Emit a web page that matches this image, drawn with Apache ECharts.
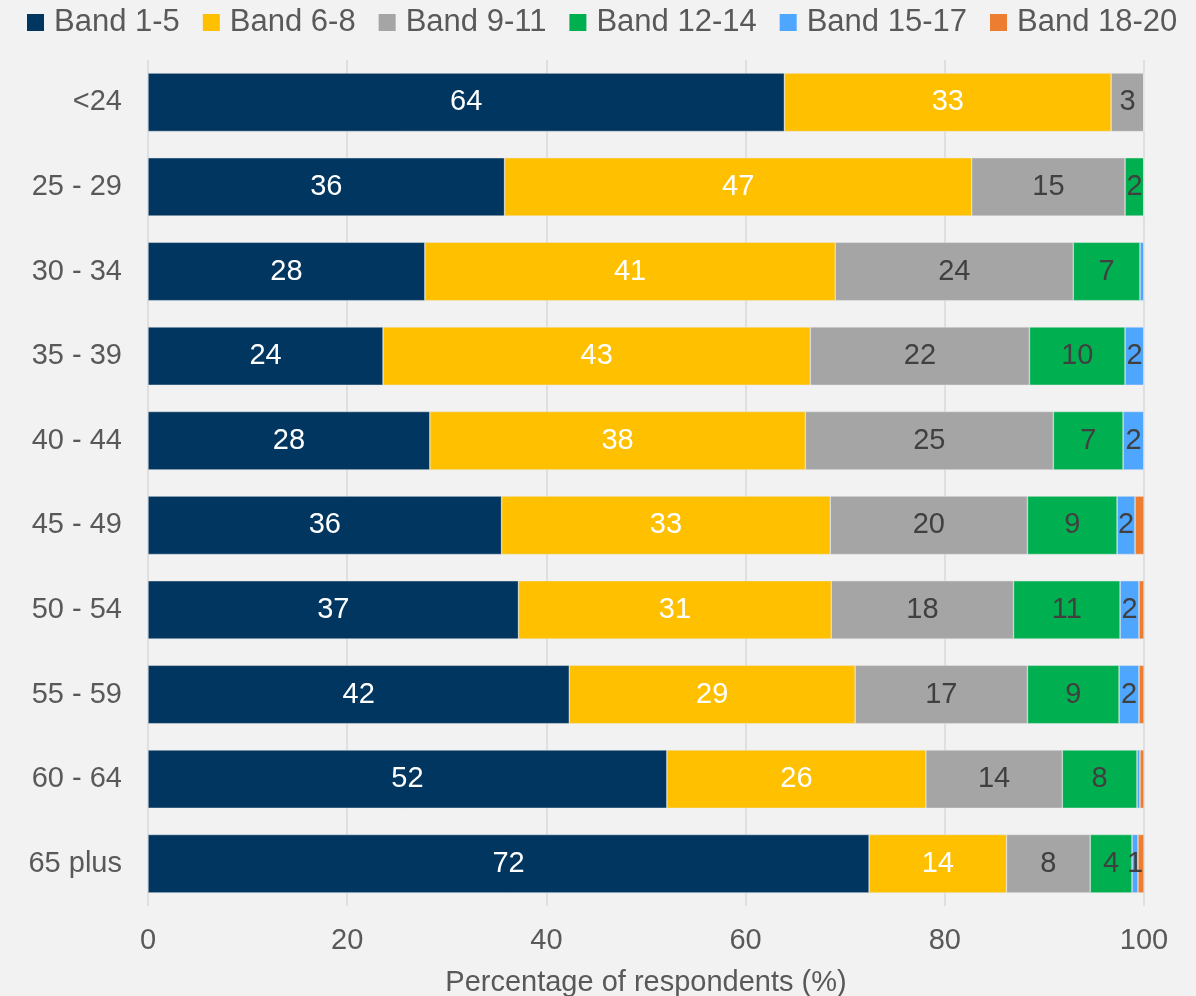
<!DOCTYPE html>
<html>
<head>
<meta charset="utf-8">
<script src="https://cdn.jsdelivr.net/npm/echarts@6/dist/echarts.min.js"></script>
<style>
  html, body { margin: 0; padding: 0; background: #f2f2f2; }
  #chart { width: 1196px; height: 996px; }
</style>
</head>
<body>
<div id="chart"></div>
<script>
const categories = ['<24', '25 - 29', '30 - 34', '35 - 39', '40 - 44', '45 - 49', '50 - 54', '55 - 59', '60 - 64', '65 plus'];
const seriesNames = ['Band 1-5', 'Band 6-8', 'Band 9-11', 'Band 12-14', 'Band 15-17', 'Band 18-20'];
const band1to5   = [63.9, 35.8, 27.8, 23.6, 28.3, 35.5, 37.2, 42.3, 52.1, 72.4];
const band6to8   = [32.8, 46.9, 41.2, 42.9, 37.7, 33.0, 31.4, 28.7, 26.0, 13.8];
const band9to11  = [3.3, 15.4, 23.9, 22.0, 24.9, 19.8, 18.3, 17.3, 13.7, 8.4];
const band12to14 = [0, 1.9, 6.7, 9.6, 7.0, 9.0, 10.7, 9.2, 7.5, 4.2];
const band15to17 = [0, 0, 0.4, 1.9, 2.1, 1.8, 1.9, 2.0, 0.3, 0.6];
const band18to20 = [0, 0, 0, 0, 0, 0.9, 0.5, 0.5, 0.4, 0.6];
const xTicks = [0, 20, 40, 60, 80, 100];

const colors = ['#003660', '#ffc000', '#a5a5a5', '#00b050', '#4ea6ff', '#ed7d31'];
const labelColors = ['#ffffff', '#ffffff', '#404040', '#404040', '#404040', '#404040'];
const showLabels = [true, true, true, true, true, false];
const allData = [band1to5, band6to8, band9to11, band12to14, band15to17, band18to20];

const font = '"Liberation Sans", Arial, sans-serif';

const chart = echarts.init(document.getElementById('chart'), null, { renderer: 'canvas' });
chart.setOption({
  backgroundColor: '#f2f2f2',
  animation: false,
  textStyle: { fontFamily: font },
  legend: {
    top: 7,
    left: 27,
    padding: 0,
    icon: 'rect',
    itemWidth: 17,
    itemHeight: 17,
    itemGap: 23,
    itemStyle: { borderWidth: 0 },
    textStyle: { fontSize: 31, color: '#595959', fontFamily: font, padding: [0, 0, 0, 5] },
    data: seriesNames
  },
  grid: { left: 148, right: 52, top: 60, bottom: 90, outerBoundsMode: 'none', containLabel: false },
  xAxis: {
    type: 'value',
    min: xTicks[0],
    max: xTicks[xTicks.length - 1],
    interval: 20,
    axisLine: { show: false },
    axisTick: { show: false },
    splitLine: { show: true, lineStyle: { color: '#d9d9d9', width: 1.5 } },
    axisLabel: { fontSize: 29, color: '#595959', margin: 20, fontFamily: font },
    name: 'Percentage of respondents (%)',
    nameLocation: 'middle',
    nameGap: 62,
    nameTextStyle: { fontSize: 29, color: '#595959', fontFamily: font }
  },
  yAxis: {
    type: 'category',
    data: categories,
    inverse: true,
    axisLine: { show: false },
    axisTick: { show: false },
    splitLine: { show: false },
    axisLabel: { fontSize: 29, color: '#595959', margin: 26, fontFamily: font }
  },
  series: allData.map((d, i) => ({
    name: seriesNames[i],
    type: 'bar',
    stack: 'total',
    data: d,
    barCategoryGap: '31%',
    itemStyle: { color: colors[i], borderColor: '#e8e8e8', borderWidth: 0.5 },
    label: {
      show: showLabels[i],
      position: 'inside',
      fontSize: 29,
      color: labelColors[i],
      fontFamily: font,
      formatter: p => (Math.round(p.value) >= 1 ? String(Math.round(p.value)) : '')
    }
  }))
});
</script>
</body>
</html>
